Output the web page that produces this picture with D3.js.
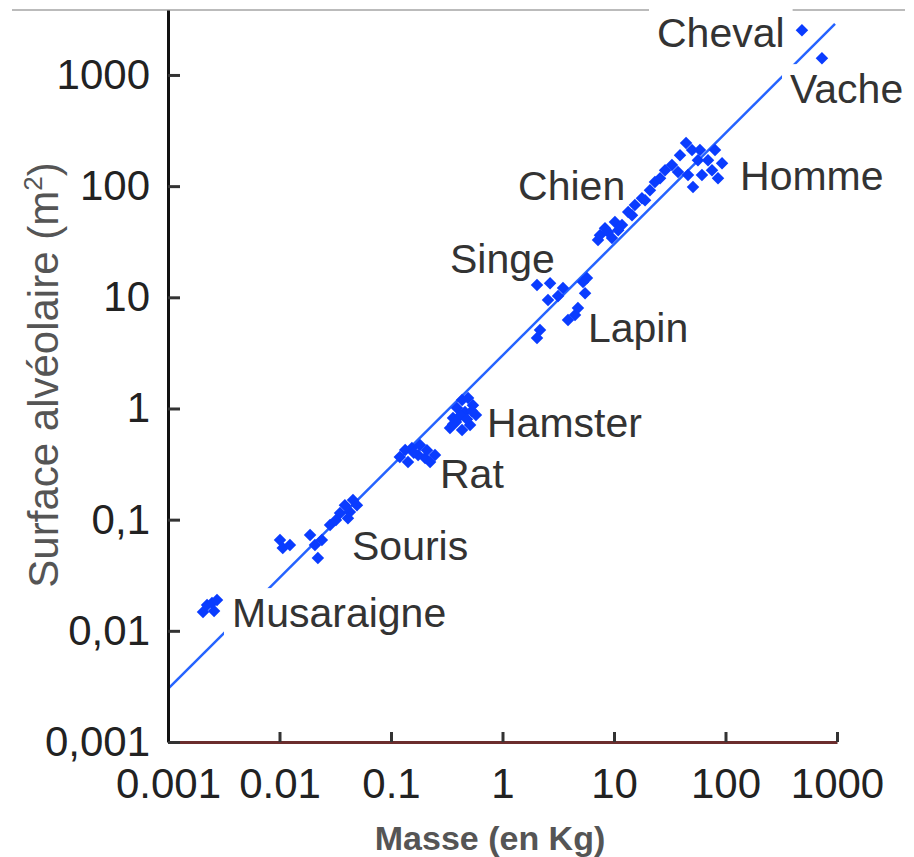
<!DOCTYPE html>
<html>
<head>
<meta charset="utf-8">
<script src="https://cdn.jsdelivr.net/npm/d3@7"></script>
<style>
  body { margin: 0; background: #fff; }
  text { font-family: "Liberation Sans", Arial, sans-serif; }
</style>
</head>
<body>
<svg id="chart"></svg>
<script>
// ticks
var xTicks = [0.001, 0.01, 0.1, 1, 10, 100, 1000]
var xTickLabels = ["0.001", "0.01", "0.1", "1", "10", "100", "1000"]
var yTicks = [0.001, 0.01, 0.1, 1, 10, 100, 1000]
var yTickLabels = ["0,001", "0,01", "0,1", "1", "10", "100", "1000"]

// points: masse (kg) / surface alvéolaire (m2)
var musaraigneMass = [0.00206, 0.00224, 0.00248, 0.00275, 0.00259]
var musaraigneArea = [0.0148, 0.0171, 0.0178, 0.0189, 0.0151]
var sourisMass = [0.0101, 0.0107, 0.0124, 0.0188, 0.0208, 0.0221, 0.024, 0.0284, 0.0321, 0.0349, 0.0386, 0.0428, 0.0456, 0.0495, 0.0411]
var sourisArea = [0.0656, 0.0556, 0.0592, 0.0728, 0.0592, 0.0452, 0.0656, 0.0893, 0.0991, 0.1146, 0.135, 0.117, 0.150, 0.135, 0.103]
var ratMass = [0.120, 0.134, 0.154, 0.175, 0.202, 0.224, 0.142, 0.182, 0.248, 0.160, 0.210]
var ratArea = [0.366, 0.423, 0.441, 0.381, 0.358, 0.330, 0.330, 0.469, 0.381, 0.400, 0.420]
var hamsterMass = [0.338, 0.360, 0.391, 0.434, 0.491, 0.543, 0.578, 0.512, 0.434, 0.383, 0.461, 0.420, 0.480, 0.530, 0.360]
var hamsterArea = [0.667, 0.821, 1.01, 1.19, 1.24, 1.07, 0.873, 0.709, 0.640, 0.755, 0.929, 0.870, 0.800, 0.950, 0.720]
var singeLapinMass = [2.04, 2.67, 3.15, 2.56, 3.49, 5.27, 5.72, 5.50, 4.47, 3.87, 4.75, 2.17, 2.04]
var singeLapinArea = [12.9, 13.4, 10.3, 9.44, 12.1, 13.7, 14.9, 10.9, 6.92, 6.24, 8.0, 5.07, 4.30]
var chienHommeMass = [7.48, 8.30, 9.59, 10.2, 11.8, 13.4, 15.4, 17.8, 21.0, 23.3, 25.9, 33.1, 37.5, 44.3, 50.1, 56.6, 61.5, 69.7, 80.5, 93.1, 51.1,
    7.19, 8.83, 10.9, 14.5, 19.0, 28.7, 39.1, 75.7, 59.0, 85.7, 46.1]
var chienHommeArea = [36.2, 41.9, 34.1, 47.5, 44.6, 58.4, 67.5, 78.0, 92.0, 109, 118, 155, 134, 244, 211, 171, 126, 171, 211, 161, 98,
    32.7, 38.6, 40.2, 54.8, 74.8, 139, 190, 139, 211, 118, 126]
var chevalVacheMass = [485, 733]
var chevalVacheArea = [2530, 1416]

// droite de régression (extrémités)
var fitMass = [0.001, 960]
var fitArea = [0.003, 2880]

// étiquettes
var labelNames = ["Cheval", "Vache", "Homme", "Chien", "Singe", "Lapin", "Hamster", "Rat", "Souris", "Musaraigne"]
var labelMass = [24.3, 379, 135, 1.38, 0.338, 5.84, 0.726, 0.275, 0.0447, 0.00375]
var labelArea = [1778, 558, 92, 74.8, 16.5, 3.96, 0.553, 0.192, 0.0434, 0.0108]

var width = 914,
    height = 857
var svg = d3.select("#chart").attr("width", width).attr("height", height)

var x = d3.scaleLog().domain([0.001, 1000]).range([168, 837])
var y = d3.scaleLog().domain([0.001, 3840]).range([742, 10])

// ligne grise en haut
svg.append("line")
    .attr("x1", 12).attr("x2", 905)
    .attr("y1", 10).attr("y2", 10)
    .attr("stroke", "#bbb")
    .attr("stroke-width", 2)

// droite
var fitData = fitMass.map(function (m, i) { return { m: m, a: fitArea[i] } })
svg.append("path")
    .datum(fitData)
    .attr("d", d3.line().x(function (d) { return x(d.m) }).y(function (d) { return y(d.a) }))
    .attr("stroke", "#2563ff")
    .attr("stroke-width", 2.5)
    .attr("fill", "none")

// fonds blancs des étiquettes (coupent la droite)
var labelData = labelNames.map(function (n, i) { return { name: n, m: labelMass[i], a: labelArea[i] } })
var bgLayer = svg.append("g")

// points
var groups = [
    [musaraigneMass, musaraigneArea],
    [sourisMass, sourisArea],
    [ratMass, ratArea],
    [hamsterMass, hamsterArea],
    [singeLapinMass, singeLapinArea],
    [chienHommeMass, chienHommeArea],
    [chevalVacheMass, chevalVacheArea]
]
var points = []
groups.forEach(function (g) {
    g[0].forEach(function (m, i) { points.push({ m: m, a: g[1][i] }) })
})
svg.append("g").selectAll("path")
    .data(points)
    .enter().append("path")
    .attr("d", d3.symbol().type(d3.symbolSquare).size(78))
    .attr("transform", function (d) {
        return "translate(" + x(d.m) + "," + y(d.a) + ") rotate(45)"
    })
    .attr("fill", "#0a3cff")

var labels = svg.append("g").selectAll("text")
    .data(labelData)
    .enter().append("text")
    .attr("x", function (d) { return x(d.m) })
    .attr("y", function (d) { return y(d.a) })
    .attr("font-size", 41)
    .attr("fill", "#333")
    .text(function (d) { return d.name })

labels.each(function () {
    var b = this.getBBox()
    bgLayer.append("rect")
        .attr("x", b.x - 8).attr("y", b.y - 2)
        .attr("width", b.width + 16).attr("height", b.height + 4)
        .attr("fill", "#fff")
})

// axes
var xAxis = svg.append("g")
    .attr("transform", "translate(0,742)")
    .call(d3.axisBottom(x)
        .tickValues(xTicks)
        .tickFormat(function (d, i) { return xTickLabels[i] })
        .tickSizeInner(-10)
        .tickSizeOuter(0)
        .tickPadding(26))
xAxis.select(".domain").attr("stroke", "#6b2d2d").attr("stroke-width", 3)
xAxis.selectAll(".tick line").attr("stroke", "#333").attr("stroke-width", 3)
xAxis.selectAll(".tick text")
    .attr("font-size", 42)
    .attr("fill", "#222")
    .attr("font-family", "Liberation Sans, Arial, sans-serif")

var yAxis = svg.append("g")
    .attr("transform", "translate(168,0)")
    .call(d3.axisLeft(y)
        .tickValues(yTicks)
        .tickFormat(function (d, i) { return yTickLabels[i] })
        .tickSizeInner(-12)
        .tickSizeOuter(0)
        .tickPadding(18))
yAxis.select(".domain").attr("stroke", "#111").attr("stroke-width", 3)
yAxis.selectAll(".tick line").attr("stroke", "#333").attr("stroke-width", 3)
yAxis.selectAll(".tick text")
    .attr("font-size", 42)
    .attr("fill", "#222")
    .attr("font-family", "Liberation Sans, Arial, sans-serif")

// titres
svg.append("text")
    .attr("x", 490)
    .attr("y", 850)
    .attr("text-anchor", "middle")
    .attr("font-size", 34)
    .attr("font-weight", "bold")
    .attr("fill", "#555")
    .text("Masse (en Kg)")

var yTitle = svg.append("text")
    .attr("transform", "translate(58,375) rotate(-90)")
    .attr("text-anchor", "middle")
    .attr("font-size", 42)
    .attr("fill", "#555")
yTitle.append("tspan").text("Surface alvéolaire (m")
yTitle.append("tspan").attr("font-size", 26).attr("dy", -16).text("2")
yTitle.append("tspan").attr("dy", 16).text(")")
</script>
</body>
</html>
